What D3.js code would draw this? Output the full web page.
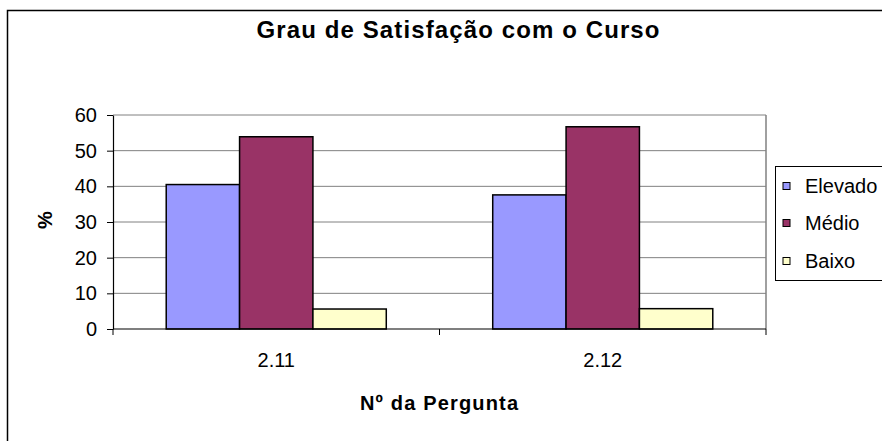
<!DOCTYPE html>
<html>
<head>
<meta charset="utf-8">
<script src="https://cdn.jsdelivr.net/npm/d3@7/dist/d3.min.js"></script>
<style>
  html, body { margin: 0; padding: 0; background: #fff; }
  svg { display: block; font-family: "Liberation Sans", Arial, sans-serif; }
</style>
</head>
<body>
<svg id="chart" width="882" height="441"></svg>
<script>
const categories = ["2.11", "2.12"];
const seriesNames = ["Elevado", "Médio", "Baixo"];
const elevado = [40.5, 37.6];
const medio = [53.9, 56.7];
const baixo = [5.6, 5.7];
const yTicks = [0, 10, 20, 30, 40, 50, 60];
const colors = ["#9999FF", "#993366", "#FFFFCC"];

const seriesValues = [elevado, medio, baixo];
const data = categories.map((c, i) => ({
  cat: c,
  values: seriesNames.map((s, j) => ({ series: s, value: seriesValues[j][i], color: colors[j] }))
}));

const FONT = "Liberation Sans, Arial, sans-serif";
const svg = d3.select("#chart");
const plot = { left: 113, right: 766, top: 115, bottom: 329 };

// outer chart border (extends past the visible window)
svg.append("rect")
  .attr("x", 7.5).attr("y", 10.5).attr("width", 920).attr("height", 460)
  .attr("fill", "none").attr("stroke", "#000").attr("stroke-width", 1.5);

const x = d3.scaleBand().domain(categories)
  .range([plot.left, plot.right])
  .paddingInner(0.326).paddingOuter(0.163);
const xInner = d3.scaleBand().domain(seriesNames).range([0, x.bandwidth()]);
const y = d3.scaleLinear().domain([0, 60]).range([plot.bottom, plot.top]);

// gridlines
svg.append("g").selectAll("line").data(yTicks.filter(d => d > 0)).join("line")
  .attr("x1", plot.left).attr("x2", plot.right)
  .attr("y1", d => y(d)).attr("y2", d => y(d))
  .attr("stroke", "#808080").attr("stroke-width", 1);

// plot area right border
svg.append("line")
  .attr("x1", plot.right).attr("x2", plot.right)
  .attr("y1", plot.top).attr("y2", plot.bottom)
  .attr("stroke", "#808080").attr("stroke-width", 1.5);

// bars
const groups = svg.append("g").selectAll("g").data(data).join("g")
  .attr("transform", d => `translate(${x(d.cat)},0)`);
groups.selectAll("rect").data(d => d.values).join("rect")
  .attr("x", d => xInner(d.series))
  .attr("y", d => y(d.value))
  .attr("width", xInner.bandwidth())
  .attr("height", d => y(0) - y(d.value))
  .attr("fill", d => d.color)
  .attr("stroke", "#000").attr("stroke-width", 1.5);

// y axis
const yAxis = svg.append("g")
  .attr("transform", `translate(${plot.left},0)`)
  .call(d3.axisLeft(y).tickValues(yTicks).tickSize(6).tickPadding(10).tickSizeOuter(0));
yAxis.select(".domain").attr("stroke", "#000").attr("stroke-width", 1.2);
yAxis.selectAll(".tick line").attr("stroke", "#000");
yAxis.selectAll("text").attr("font-size", 20).attr("fill", "#000")
  .attr("font-family", FONT);

// x axis
const xAxis = svg.append("g")
  .attr("transform", `translate(0,${plot.bottom})`)
  .call(d3.axisBottom(x).tickSize(0).tickPadding(24));
xAxis.select(".domain").remove();
xAxis.selectAll("text").attr("font-size", 20).attr("fill", "#000")
  .attr("font-family", FONT);
svg.append("line")
  .attr("x1", plot.left).attr("x2", plot.right)
  .attr("y1", plot.bottom).attr("y2", plot.bottom)
  .attr("stroke", "#000").attr("stroke-width", 1.2);
const boundaries = d3.range(categories.length + 1).map(i => x.range()[0] + i * x.step());
svg.append("g").selectAll("line").data(boundaries).join("line")
  .attr("x1", d => d).attr("x2", d => d)
  .attr("y1", plot.bottom).attr("y2", plot.bottom + 6)
  .attr("stroke", "#000").attr("stroke-width", 1);

// title
svg.append("text")
  .attr("x", 458).attr("y", 38)
  .attr("text-anchor", "middle")
  .attr("font-size", 24).attr("font-weight", "bold")
  .attr("font-family", FONT)
  .attr("textLength", 403).attr("lengthAdjust", "spacing")
  .text("Grau de Satisfação com o Curso");

// x axis title
svg.append("text")
  .attr("x", 439).attr("y", 410)
  .attr("text-anchor", "middle")
  .attr("font-size", 20).attr("font-weight", "bold")
  .attr("font-family", FONT)
  .attr("textLength", 158).attr("lengthAdjust", "spacing")
  .text("Nº da Pergunta");

// y axis title
svg.append("text")
  .attr("transform", "translate(52,220) rotate(-90)")
  .attr("text-anchor", "middle")
  .attr("font-size", 20).attr("font-weight", "bold")
  .attr("font-family", FONT)
  .text("%");

// legend
const legend = svg.append("g");
legend.append("rect")
  .attr("x", 775.5).attr("y", 166.5).attr("width", 120).attr("height", 114)
  .attr("fill", "#fff").attr("stroke", "#000").attr("stroke-width", 1);
const rowY = [186, 223, 261];
const items = legend.selectAll("g.item").data(seriesNames).join("g")
  .attr("class", "item")
  .attr("transform", (d, i) => `translate(0,${rowY[i]})`);
items.append("rect")
  .attr("x", 783).attr("y", -3.5).attr("width", 7).attr("height", 7)
  .attr("fill", (d, i) => colors[i]).attr("stroke", "#000").attr("stroke-width", 1);
items.append("text")
  .attr("x", 805).attr("y", 7)
  .attr("font-size", 20)
  .attr("font-family", FONT)
  .text(d => d);
</script>
</body>
</html>
